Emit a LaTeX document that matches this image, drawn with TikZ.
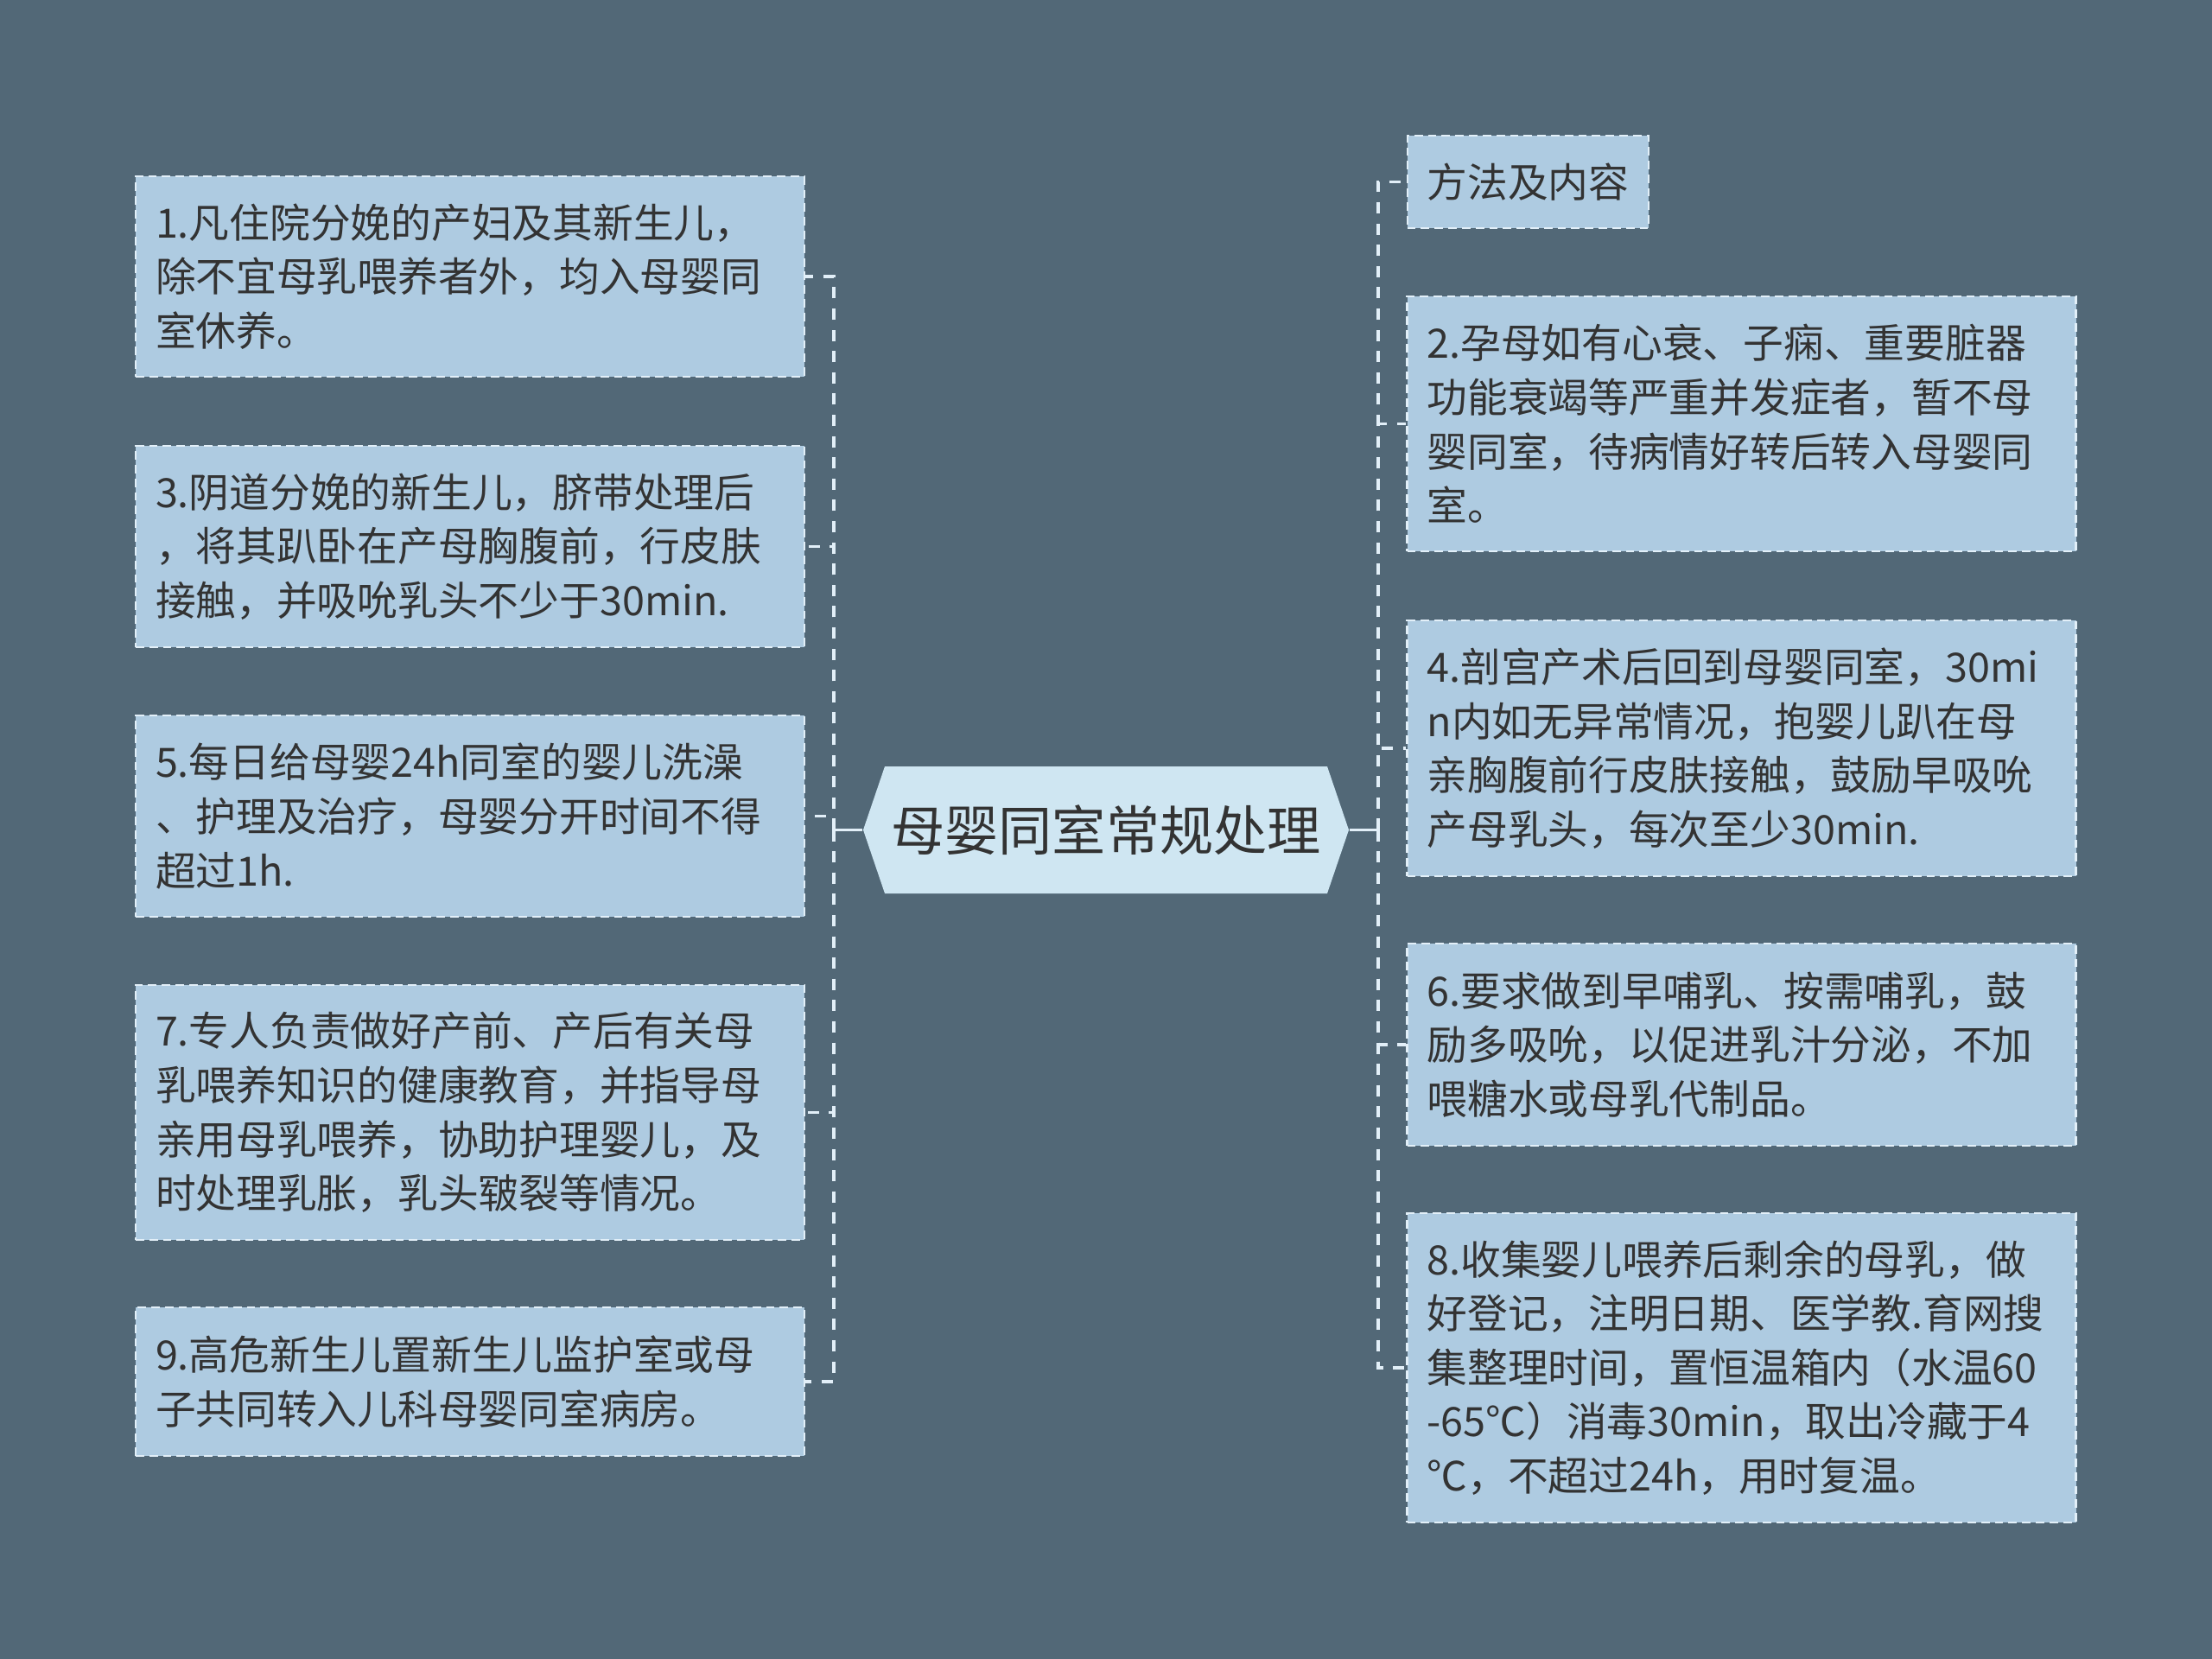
\documentclass[tikz,border=0pt]{standalone}
\usepackage{fontspec}
\setmainfont{Noto Sans CJK SC}
\usetikzlibrary{positioning,calc}

\definecolor{bgc}{RGB}{82,104,119}
\definecolor{leafc}{RGB}{174,203,225}
\definecolor{hubc}{RGB}{207,230,242}
\definecolor{linec}{RGB}{226,239,248}
\definecolor{txtc}{RGB}{51,51,51}

\begin{document}
\begin{tikzpicture}[
  leaf/.style={rectangle, draw=linec, line width=0.6pt, dash pattern=on 2.8pt off 1.7pt, fill=leafc, text=txtc,
    font=\fontsize{13.3}{17.8}\selectfont, align=left, inner xsep=0.23cm, inner ysep=0pt},
  lw/.style={text width=7.28cm, minimum width=7.74cm},
  hub/.style={rectangle, text=txtc, minimum width=5.62cm, minimum height=1.47cm, inner sep=0pt,
    font=\fontsize{17.7}{20}\selectfont,
    path picture={\fill[hubc] (path picture bounding box.west) -- ([xshift=0.25cm]path picture bounding box.north west)
      -- ([xshift=-0.25cm]path picture bounding box.north east) -- (path picture bounding box.east)
      -- ([xshift=-0.25cm]path picture bounding box.south east) -- ([xshift=0.25cm]path picture bounding box.south west) -- cycle;}},
  conn/.style={draw=linec, line width=1pt, dash pattern=on 3.7pt off 3.3pt},
  stub/.style={draw=linec, line width=1pt}]
\useasboundingbox (0,0) rectangle (25.6,-19.2);
\fill[bgc] (0,0) rectangle (25.6,-19.2);

% centre
\node[hub] (hub) at (12.80,-9.605) {母婴同室常规处理};
\coordinate (lj) at (9.65,-9.605);
\coordinate (rj) at (15.95,-9.605);

% left side
\node[leaf, lw, minimum height=2.32cm] (b1) at (5.44,-3.20) {1.凡住院分娩的产妇及其新生儿，\\除不宜母乳喂养者外，均入母婴同\\室休养。};
\node[leaf, lw, minimum height=2.33cm] (b3) at (5.44,-6.325) {3.阴道分娩的新生儿，脐带处理后\\，将其趴卧在产母胸腹前，行皮肤\\接触，并吸吮乳头不少于30min.};
\node[leaf, lw, minimum height=2.33cm] (b5) at (5.44,-9.445) {5.每日给母婴24h同室的婴儿洗澡\\、护理及治疗，母婴分开时间不得\\超过1h.};
\node[leaf, lw, minimum height=2.95cm] (b7) at (5.44,-12.875) {7.专人负责做好产前、产后有关母\\乳喂养知识的健康教育，并指导母\\亲用母乳喂养，协助护理婴儿，及\\时处理乳胀，乳头皲裂等情况。};
\node[leaf, lw, minimum height=1.72cm] (b9) at (5.44,-15.99) {9.高危新生儿置新生儿监护室或母\\子共同转入儿科母婴同室病房。};

% right side
\node[leaf, minimum height=1.07cm] (m) at (17.685,-2.105) {方法及内容};
\node[leaf, lw, minimum height=2.95cm] (b2) at (20.155,-4.905) {2.孕母如有心衰、子痫、重要脏器\\功能衰竭等严重并发症者，暂不母\\婴同室，待病情好转后转入母婴同\\室。};
\node[leaf, lw, minimum height=2.96cm] (b4) at (20.155,-8.66) {4.剖宫产术后回到母婴同室，30mi\\n内如无异常情况，抱婴儿趴在母\\亲胸腹前行皮肤接触，鼓励早吸吮\\产母乳头，每次至少30min.};
\node[leaf, lw, minimum height=2.34cm] (b6) at (20.155,-12.09) {6.要求做到早哺乳、按需哺乳，鼓\\励多吸吮，以促进乳汁分泌，不加\\喂糖水或母乳代制品。};
\node[leaf, lw, minimum height=3.58cm] (b8) at (20.155,-15.83) {8.收集婴儿喂养后剩余的母乳，做\\好登记，注明日期、医学教.育网搜\\集整理时间，置恒温箱内（水温60\\-65℃）消毒30min，取出冷藏于4\\℃，不超过24h，用时复温。};

% connectors
\draw[stub] (hub.west) -- (lj); \draw[stub] (hub.east) -- (rj);
\draw[conn] (lj) |- (b1.east); \draw[conn] (lj) |- (b3.east); \draw[conn] (lj) |- (b5.east); \draw[conn] (lj) |- (b7.east); \draw[conn] (lj) |- (b9.east);
\draw[conn] (rj) |- (m.west); \draw[conn] (rj) |- (b2.west); \draw[conn] (rj) |- (b4.west); \draw[conn] (rj) |- (b6.west); \draw[conn] (rj) |- (b8.west);
\end{tikzpicture}
\end{document}
